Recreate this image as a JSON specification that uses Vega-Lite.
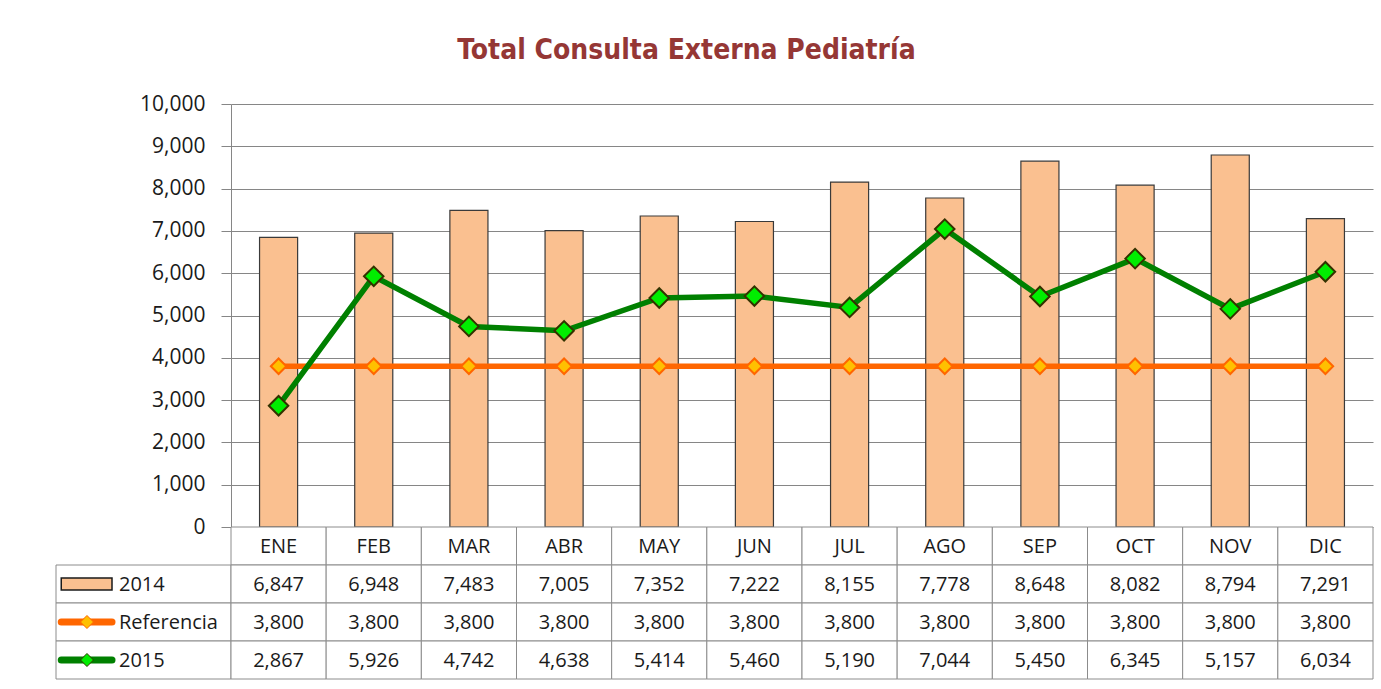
{
  "$schema": "https://vega.github.io/schema/vega-lite/v6.json",
  "padding": {"left": 55, "top": 37, "right": 9, "bottom": 9},
  "background": "white",
  "config": {
    "view": {"stroke": null},
    "font": "Open Sans",
    "axis": {"labelFont": "Open Sans"}
  },
  "title": {
    "text": "Total Consulta Externa Pediatría",
    "font": "DejaVu Sans Condensed, Liberation Sans",
    "fontWeight": "bold",
    "fontSize": 28,
    "color": "#953735",
    "anchor": "middle",
    "dx": -28,
    "offset": 28
  },
  "data": {
    "values": [
      {"mes": "ENE", "serie": "2014", "valor": 6847},
      {"mes": "FEB", "serie": "2014", "valor": 6948},
      {"mes": "MAR", "serie": "2014", "valor": 7483},
      {"mes": "ABR", "serie": "2014", "valor": 7005},
      {"mes": "MAY", "serie": "2014", "valor": 7352},
      {"mes": "JUN", "serie": "2014", "valor": 7222},
      {"mes": "JUL", "serie": "2014", "valor": 8155},
      {"mes": "AGO", "serie": "2014", "valor": 7778},
      {"mes": "SEP", "serie": "2014", "valor": 8648},
      {"mes": "OCT", "serie": "2014", "valor": 8082},
      {"mes": "NOV", "serie": "2014", "valor": 8794},
      {"mes": "DIC", "serie": "2014", "valor": 7291},
      {"mes": "ENE", "serie": "Referencia", "valor": 3800},
      {"mes": "FEB", "serie": "Referencia", "valor": 3800},
      {"mes": "MAR", "serie": "Referencia", "valor": 3800},
      {"mes": "ABR", "serie": "Referencia", "valor": 3800},
      {"mes": "MAY", "serie": "Referencia", "valor": 3800},
      {"mes": "JUN", "serie": "Referencia", "valor": 3800},
      {"mes": "JUL", "serie": "Referencia", "valor": 3800},
      {"mes": "AGO", "serie": "Referencia", "valor": 3800},
      {"mes": "SEP", "serie": "Referencia", "valor": 3800},
      {"mes": "OCT", "serie": "Referencia", "valor": 3800},
      {"mes": "NOV", "serie": "Referencia", "valor": 3800},
      {"mes": "DIC", "serie": "Referencia", "valor": 3800},
      {"mes": "ENE", "serie": "2015", "valor": 2867},
      {"mes": "FEB", "serie": "2015", "valor": 5926},
      {"mes": "MAR", "serie": "2015", "valor": 4742},
      {"mes": "ABR", "serie": "2015", "valor": 4638},
      {"mes": "MAY", "serie": "2015", "valor": 5414},
      {"mes": "JUN", "serie": "2015", "valor": 5460},
      {"mes": "JUL", "serie": "2015", "valor": 5190},
      {"mes": "AGO", "serie": "2015", "valor": 7044},
      {"mes": "SEP", "serie": "2015", "valor": 5450},
      {"mes": "OCT", "serie": "2015", "valor": 6345},
      {"mes": "NOV", "serie": "2015", "valor": 5157},
      {"mes": "DIC", "serie": "2015", "valor": 6034}
    ]
  },
  "columns": 2,
  "spacing": 0,
  "bounds": "flush",
  "concat": [
    {
      "width": 175,
      "height": 423,
      "data": {"values": []},
      "mark": "text",
      "encoding": {}
    },
    {
      "width": 1142,
      "height": 423,
      "encoding": {
        "x": {
          "field": "mes",
          "type": "nominal",
          "sort": null,
          "scale": {"domain": ["ENE","FEB","MAR","ABR","MAY","JUN","JUL","AGO","SEP","OCT","NOV","DIC"], "paddingInner": 0.6, "paddingOuter": 0.3},
          "axis": null
        },
        "y": {
          "field": "valor",
          "type": "quantitative",
          "scale": {"domain": [0, 10000], "nice": false},
          "axis": {
            "title": null,
            "values": [0,1000,2000,3000,4000,5000,6000,7000,8000,9000,10000],
            "format": ",.0f",
            "labelFontSize": 21,
            "labelColor": "#1a1a1a",
            "labelPadding": 16,
            "tickSize": 10,
            "tickColor": "#868686",
            "domainColor": "#868686",
            "grid": true,
            "gridColor": "#868686",
            "gridWidth": 1
          }
        }
      },
      "layer": [
        {
          "transform": [{"filter": "datum.serie === '2014'"}],
          "mark": {"type": "bar", "fill": "#FAC090", "stroke": "#3a3a3a", "strokeWidth": 1.2}
        },
        {
          "transform": [{"filter": "datum.serie !== '2014'"}],
          "mark": {"type": "line", "strokeWidth": 5.5},
          "encoding": {
            "color": {
              "field": "serie",
              "type": "nominal",
              "scale": {"domain": ["Referencia", "2015"], "range": ["#FF6600", "#008000"]},
              "legend": null
            }
          }
        },
        {
          "transform": [{"filter": "datum.serie !== '2014'"}],
          "mark": {"type": "point", "shape": "diamond", "filled": true, "opacity": 1, "strokeWidth": 2},
          "encoding": {
            "fill": {
              "field": "serie",
              "type": "nominal",
              "scale": {"domain": ["Referencia", "2015"], "range": ["#FFC000", "#00EE00"]},
              "legend": null
            },
            "stroke": {
              "field": "serie",
              "type": "nominal",
              "scale": {"domain": ["Referencia", "2015"], "range": ["#FF6600", "#333300"]},
              "legend": null
            },
            "size": {
              "field": "serie",
              "type": "nominal",
              "scale": {"domain": ["Referencia", "2015"], "range": [240, 380]},
              "legend": null
            }
          }
        }
      ]
    },
    {
      "width": 175,
      "height": 152,
      "transform": [{"aggregate": [{"op": "count", "as": "n"}], "groupby": ["serie"]}],
      "encoding": {
        "y": {
          "field": "serie",
          "type": "nominal",
          "scale": {"domain": ["MES", "2014", "Referencia", "2015"], "paddingInner": 0, "paddingOuter": 0},
          "axis": null
        }
      },
      "layer": [
        {
          "mark": {"type": "rect", "fill": "white", "stroke": "#8c8c8c", "strokeWidth": 1},
          "encoding": {
            "x": {"datum": 0, "type": "quantitative", "scale": {"domain": [0, 1], "nice": false}, "axis": null},
            "x2": {"datum": 1}
          }
        },
        {
          "mark": {"type": "text", "align": "left", "baseline": "middle", "fontSize": 20, "color": "#1a1a1a", "dy": 1},
          "encoding": {
            "x": {"datum": 0.36, "type": "quantitative"},
            "text": {"field": "serie"}
          }
        },
        {
          "transform": [{"filter": "datum.serie === '2014'"}],
          "mark": {"type": "rect", "fill": "#FAC090", "stroke": "#1a1a1a", "strokeWidth": 1.5, "height": {"band": 0.32}},
          "encoding": {
            "x": {"datum": 0.03, "type": "quantitative"},
            "x2": {"datum": 0.32}
          }
        },
        {
          "transform": [{"filter": "datum.serie !== '2014'"}],
          "mark": {"type": "rule", "strokeWidth": 7, "strokeCap": "round"},
          "encoding": {
            "x": {"datum": 0.03, "type": "quantitative"},
            "x2": {"datum": 0.32},
            "color": {
              "field": "serie",
              "type": "nominal",
              "scale": {"domain": ["Referencia", "2015"], "range": ["#FF6600", "#008000"]},
              "legend": null
            }
          }
        },
        {
          "transform": [{"filter": "datum.serie !== '2014'"}],
          "mark": {"type": "point", "shape": "diamond", "filled": true, "opacity": 1, "size": 170, "strokeWidth": 1},
          "encoding": {
            "x": {"datum": 0.177, "type": "quantitative"},
            "fill": {
              "field": "serie",
              "type": "nominal",
              "scale": {"domain": ["Referencia", "2015"], "range": ["#FFC000", "#00EE00"]},
              "legend": null
            },
            "stroke": {
              "field": "serie",
              "type": "nominal",
              "scale": {"domain": ["Referencia", "2015"], "range": ["#FF9900", "#008000"]},
              "legend": null
            }
          }
        }
      ]
    },
    {
      "width": 1142,
      "height": 152,
      "encoding": {
        "x": {
          "field": "mes",
          "type": "nominal",
          "sort": null,
          "scale": {"domain": ["ENE","FEB","MAR","ABR","MAY","JUN","JUL","AGO","SEP","OCT","NOV","DIC"], "paddingInner": 0, "paddingOuter": 0},
          "axis": null
        }
      },
      "layer": [
        {
          "transform": [{"filter": "datum.serie === '2014'"}],
          "mark": {"type": "rect", "fill": "white", "stroke": "#8c8c8c", "strokeWidth": 1},
          "encoding": {
            "y": {"datum": "MES", "type": "nominal", "scale": {"domain": ["MES", "2014", "Referencia", "2015"], "paddingInner": 0, "paddingOuter": 0}, "axis": null}
          }
        },
        {
          "mark": {"type": "rect", "fill": "white", "stroke": "#8c8c8c", "strokeWidth": 1},
          "encoding": {
            "y": {"field": "serie", "type": "nominal", "axis": null}
          }
        },
        {
          "transform": [{"filter": "datum.serie === '2014'"}],
          "mark": {"type": "text", "fontSize": 20, "color": "#1a1a1a", "baseline": "middle", "dy": 1},
          "encoding": {
            "y": {"datum": "MES", "type": "nominal"},
            "text": {"field": "mes"}
          }
        },
        {
          "mark": {"type": "text", "fontSize": 20, "color": "#1a1a1a", "baseline": "middle", "dy": 1},
          "encoding": {
            "y": {"field": "serie", "type": "nominal"},
            "text": {"field": "valor", "type": "quantitative", "format": ","}
          }
        }
      ]
    }
  ]
}
